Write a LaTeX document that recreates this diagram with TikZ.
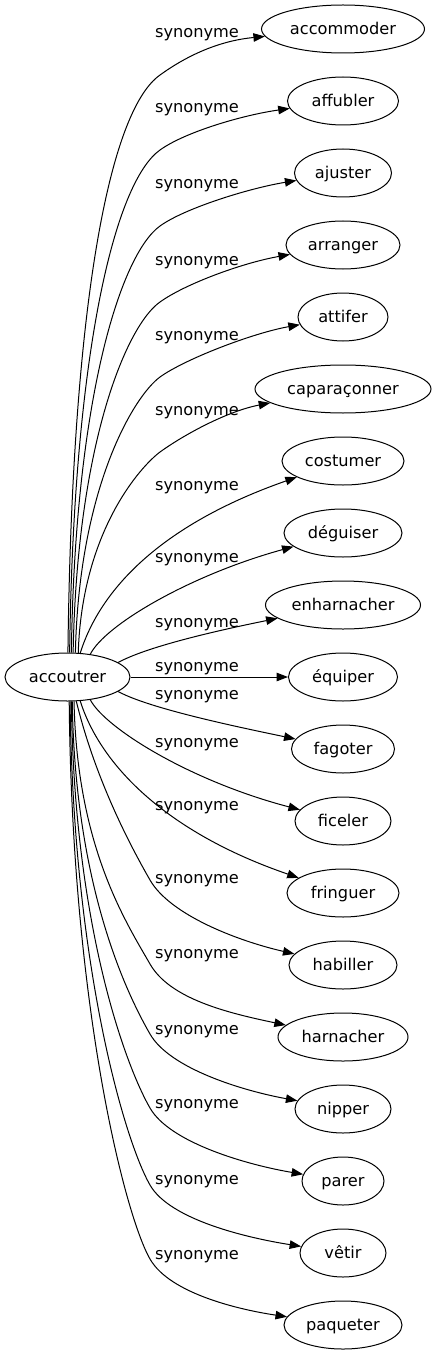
\documentclass[tikz,border=0pt]{standalone}
\usepackage{fontspec}
\setmainfont{DejaVu Sans}
\usetikzlibrary{shapes.geometric,arrows.meta}
\begin{document}
\begin{tikzpicture}[x=0.75pt,y=-0.75pt,
  font=\fontsize{12.15pt}{14pt}\selectfont,
  term/.style={draw, ellipse, line width=0.75pt, inner sep=0pt, minimum height=36pt, text height=11.2pt, text depth=2.9pt},
  lbl/.style={anchor=base, inner sep=0pt},
  syn/.style={line width=0.75pt, -{Triangle[length=8.6pt,width=6.4pt]}}]
\useasboundingbox (0,0) rectangle (437,1355);

% nodes
\node[term, minimum width=93.75pt] (acc) at (67.5,677) {accoutrer};
\node[term, minimum width=122.25pt] (accommoder) at (343,29) {accommoder};
\node[term, minimum width=83.25pt] (affubler) at (343,101) {affubler};
\node[term, minimum width=72.75pt] (ajuster) at (343,173) {ajuster};
\node[term, minimum width=85.5pt] (arranger) at (343,245) {arranger};
\node[term, minimum width=67.5pt] (attifer) at (343,317) {attifer};
\node[term, minimum width=132pt] (caparaconner) at (343,389) {caparaçonner};
\node[term, minimum width=91.5pt] (costumer) at (343,461) {costumer};
\node[term, minimum width=88.5pt] (deguiser) at (343,533) {déguiser};
\node[term, minimum width=116.25pt] (enharnacher) at (343,605) {enharnacher};
\node[term, minimum width=81.75pt] (equiper) at (343,677) {équiper};
\node[term, minimum width=77.25pt] (fagoter) at (343,749) {fagoter};
\node[term, minimum width=72pt] (ficeler) at (343,821) {ficeler};
\node[term, minimum width=84pt] (fringuer) at (343,893) {fringuer};
\node[term, minimum width=81pt] (habiller) at (343,965) {habiller};
\node[term, minimum width=97.5pt] (harnacher) at (343,1037) {harnacher};
\node[term, minimum width=72pt] (nipper) at (343,1109) {nipper};
\node[term, minimum width=61.5pt] (parer) at (343,1181) {parer};
\node[term, minimum width=64.5pt] (vetir) at (343,1253) {vêtir};
\node[term, minimum width=88.5pt] (paqueter) at (343,1325) {paqueter};

% edge labels
\node[lbl] (l1) at (197,38) {synonyme};
\node[lbl] (l2) at (197,113) {synonyme};
\node[lbl] (l3) at (197,189) {synonyme};
\node[lbl] (l4) at (197,265) {synonyme};
\node[lbl] (l5) at (197,340) {synonyme};
\node[lbl] (l6) at (197,415) {synonyme};
\node[lbl] (l7) at (197,490) {synonyme};
\node[lbl] (l8) at (197,562) {synonyme};
\node[lbl] (l9) at (197,627) {synonyme};
\node[lbl] (l10) at (197,671) {synonyme};
\node[lbl] (l11) at (197,699) {synonyme};
\node[lbl] (l12) at (197,747) {synonyme};
\node[lbl] (l13) at (197,810) {synonyme};
\node[lbl] (l14) at (197,883) {synonyme};
\node[lbl] (l15) at (197,958) {synonyme};
\node[lbl] (l16) at (197,1034) {synonyme};
\node[lbl] (l17) at (197,1108) {synonyme};
\node[lbl] (l18) at (197,1184) {synonyme};
\node[lbl] (l19) at (197,1259) {synonyme};

% edges
\draw[syn] (acc.89) .. controls (72,306) and (109,111) .. (160,75) .. controls (185,57) and (217,41) .. (accommoder);
\draw[syn] (acc.85) .. controls (73.5,351) and (115,182) .. (160,150) .. controls (185,132) and (243,115) .. (affubler);
\draw[syn] (acc.81.7) .. controls (75,397) and (121,254) .. (160,226) .. controls (185,208) and (250,188) .. (ajuster);
\draw[syn] (acc.77) .. controls (77,442) and (127,325) .. (160,302) .. controls (185,284) and (242,263) .. (arranger);
\draw[syn] (acc.72.5) .. controls (79,487) and (134,396) .. (160,377) .. controls (185,359) and (253,333) .. (attifer);
\draw[syn] (acc.66) .. controls (82,532) and (140,467) .. (160,452) .. controls (185,434) and (228,411) .. (caparaconner);
\draw[syn] (acc.62) .. controls (100,590) and (160,525) .. (costumer);
\draw[syn] (acc.45) .. controls (105,625) and (190,575) .. (deguiser);
\draw[syn] (acc.16.5) .. controls (150,645) and (230,628) .. (enharnacher);
\draw[syn] (acc) -- (equiper);
\draw[syn] (acc.-16.5) .. controls (150,709) and (243,728) .. (fagoter);
\draw[syn] (acc.-45) .. controls (105,728) and (190,781) .. (ficeler);
\draw[syn] (acc.-62) .. controls (100,764) and (165,832) .. (fringuer);
\draw[syn] (acc.-70) .. controls (96,782) and (132.5,849.5) .. (150,880) .. controls (170,915) and (238,941) .. (habiller);
\draw[syn] (acc.-75) .. controls (77,846) and (125,920.5) .. (150,964) .. controls (170,999) and (228,1013) .. (harnacher);
\draw[syn] (acc.-79.4) .. controls (75,884) and (125,990.5) .. (150,1034) .. controls (170,1069) and (244,1091) .. (nipper);
\draw[syn] (acc.-81.7) .. controls (74,925) and (125,1064.5) .. (150,1108) .. controls (170,1143) and (248,1165) .. (parer);
\draw[syn] (acc.-84) .. controls (73,967) and (125,1141.5) .. (150,1185) .. controls (170,1220) and (248,1238) .. (vetir);
\draw[syn] (acc.-86.4) .. controls (72,1008) and (125,1215.5) .. (150,1259) .. controls (170,1294) and (241,1310) .. (paqueter);
\end{tikzpicture}
\end{document}
